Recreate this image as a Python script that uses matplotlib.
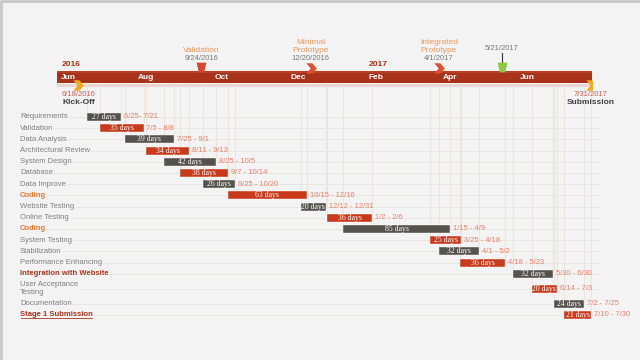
import matplotlib
matplotlib.use("Agg")
from matplotlib import pyplot as plt
from matplotlib.lines import Line2D
import matplotlib.dates as mdates
import numpy as np
import pandas as pd

# DATA
tasks = ["Requirements", "Validation", "Data Analysis", "Architectural Review",
         "System Design", "Database", "Data Improve", "Coding", "Website Testing",
         "Online Testing", "Coding", "System Testing", "Stabilization",
         "Performance Enhancing", "Integration with Website",
         "User Acceptance\nTesting", "Documentation", "Stage 1 Submission"]
starts = ["2016-06-25", "2016-07-05", "2016-07-25", "2016-08-11", "2016-08-25",
          "2016-09-07", "2016-09-25", "2016-10-15", "2016-12-12", "2017-01-02",
          "2017-01-15", "2017-03-25", "2017-04-01", "2017-04-18", "2017-05-30",
          "2017-06-14", "2017-07-02", "2017-07-10"]
ends = ["2016-07-21", "2016-08-08", "2016-09-01", "2016-09-13", "2016-10-05",
        "2016-10-14", "2016-10-20", "2016-12-16", "2016-12-31", "2017-02-06",
        "2017-04-09", "2017-04-18", "2017-05-02", "2017-05-23", "2017-06-30",
        "2017-07-03", "2017-07-25", "2017-07-30"]
durations = [27, 35, 39, 34, 42, 38, 26, 63, 20, 36, 85, 25, 32, 36, 32, 20, 24, 21]
range_labels = ["6/25- 7/21", "7/5 - 8/8", "7/25 - 9/1", "8/11 - 9/13", "8/25 - 10/5",
                "9/7 - 10/14", "9/25 - 10/20", "10/15 - 12/16", "12/12 - 12/31",
                "1/2 - 2/6", "1/15 - 4/9", "3/25 - 4/18", "4/1 - 5/2", "4/18 - 5/23",
                "5/30 - 6/30", "6/14 - 7/3", "7/2 - 7/25", "7/10 - 7/30"]
label_kind = ["n", "n", "n", "n", "n", "n", "n", "coding", "n", "n", "coding",
              "n", "n", "n", "group", "n", "n", "stage"]

month_dates = ["2016-06-01", "2016-08-01", "2016-10-01", "2016-12-01",
               "2017-02-01", "2017-04-01", "2017-06-01"]
month_labels = ["Jun", "Aug", "Oct", "Dec", "Feb", "Apr", "Jun"]
year_dates = ["2016-06-01", "2017-02-01"]
year_labels = ["2016", "2017"]

timeline_start = "2016-06-01"
timeline_end = "2017-08-01"

# milestones above the bar
top_ms_dates = ["2016-09-24", "2016-12-20", "2017-04-01", "2017-05-21"]
top_ms_names = ["Validation", "Minimal\nPrototype", "Integrated\nPrototype", ""]
top_ms_labels = ["9/24/2016", "12/20/2016", "4/1/2017", "5/21/2017"]
top_ms_shape = ["flag", "chevron", "chevron", "flag"]
top_ms_color = ["#d9462a", "#e0502a", "#e0502a", "#8dc63f"]

# milestones below the bar
bot_ms_dates = ["2016-06-18", "2017-07-31"]
bot_ms_names = ["Kick-Off", "Submission"]
bot_ms_labels = ["6/18/2016", "7/31/2017"]

#__________________________________________________________________________

BG = "#f3f3f3"
RED = "#a8321a"
GRAY_BAR = "#55524d"
RED_BAR = "#c9391c"
DATE_TXT = "#e8806a"
LBL = "#808080"
FONT = "Liberation Sans"

d = lambda s: mdates.date2num(pd.Timestamp(s))

W, H = 640, 360
fig = plt.figure(figsize=(6.4, 3.6), dpi=100, facecolor=BG)
# frame only on the top and left edge, like the slide screenshot
fig.lines.append(Line2D([0.002, 0.002, 1], [0, 0.996, 0.996], transform=fig.transFigure,
                        color="#c9c9c9", lw=2))

x0, x1 = 57, 592
# gantt axes, rows
ax = fig.add_axes([x0 / W, (H - 335) / H, (x1 - x0) / W, (335 - 86) / H])
ax.set_facecolor("none")
row_px, first_px = 11.2, 117
ax.set_ylim((335 - first_px) / row_px, (86 - first_px) / row_px)
ax.set_xlim(d(timeline_start), d(timeline_end))
ax.axis("off")

# row positions (the two-line row gets more room)
ypos = []
y = 0.0
for i in range(len(tasks)):
    if i > 0:
        y += 1.33 if i in (15, 16) else 1.0
    ypos.append(y)

left = np.array([d(s) for s in starts])
right = np.array([d(e) + 1 for e in ends])
colors = [GRAY_BAR if i % 2 == 0 else RED_BAR for i in range(len(tasks))]

top_y = ax.get_ylim()[1]
for l, r, yy in zip(left, right, ypos):
    ax.plot([l, l], [top_y, yy], color="#ebe5de", lw=0.8, zorder=0)
    ax.plot([r, r], [top_y, yy], color="#ebe5de", lw=0.8, zorder=0)

lx = (20 - x0) / (x1 - x0)
for yy in ypos:
    ax.plot([lx, (600 - x0) / (x1 - x0)], [yy, yy], color="#e9e5e0", lw=0.7,
            transform=ax.get_yaxis_transform(), clip_on=False, zorder=0)

ax.barh(ypos, right - left, left=left, height=0.72, color=colors,
        edgecolor="#ffffff", linewidth=0.3, zorder=2)

for l, r, yy, n, rl in zip(left, right, ypos, durations, range_labels):
    ax.text((l + r) / 2, yy, f"{n} days", color="white", fontsize=5.6,
            family="Liberation Serif", ha="center", va="center", zorder=3)
    ax.annotate(rl, (r, yy), xytext=(2, 0), textcoords="offset points",
                color=DATE_TXT, fontsize=5.4, family=FONT, va="center", zorder=3)

stage_text = None
for name, yy, kind in zip(tasks, ypos, label_kind):
    kw = dict(color=LBL, fontweight="normal")
    if kind == "coding":
        kw = dict(color="#ec7a2c", fontweight="bold")
    elif kind in ("group", "stage"):
        kw = dict(color="#a8361f", fontweight="bold")
    t = ax.text(lx, yy, name, transform=ax.get_yaxis_transform(), fontsize=5.5,
                family=FONT, va="center", ha="left", linespacing=1.3,
                bbox=dict(fc=BG, ec="none", pad=0.6), zorder=3, **kw)
    if kind == "stage":
        stage_text = t

#__________________________________________________________________________
# timeline axes (y in pixel units)
tx = fig.add_axes([x0 / W, (H - 112) / H, (x1 - x0) / W, (112 - 25) / H])
tx.set_facecolor("none")
tx.set_xlim(d(timeline_start), d(timeline_end))
tx.set_ylim(112, 25)
tx.axis("off")

span = d(timeline_end) - d(timeline_start)
tx.barh([85.5], [span], left=d(timeline_start), height=2.5, color="#ecd6cf", zorder=1)
tx.barh([77], [span], left=d(timeline_start), height=12.5, color=RED, zorder=2)
tx.barh([72], [span], left=d(timeline_start), height=2, color="#b5412a", zorder=2)

for md, ml in zip(month_dates, month_labels):
    tx.annotate(ml, (d(md), 77.5), xytext=(3, 0), textcoords="offset points",
                color="white", fontsize=6, fontweight="bold", family=FONT,
                va="center", ha="left", zorder=4)
for yd, yl in zip(year_dates, year_labels):
    tx.annotate(yl, (d(yd), 65), xytext=(3, 0), textcoords="offset points",
                color=RED, fontsize=6, fontweight="bold", family=FONT,
                va="center", ha="left")

chevron = [(-1, 1), (0.15, 1), (1, 0), (0.15, -1), (-1, -1), (-0.15, 0), (-1, 1)]
flag = [(-1, 1), (1, 1), (0.55, -1), (-0.55, -1), (-1, 1)]

for md, nm, lb, sh, c in zip(top_ms_dates, top_ms_names, top_ms_labels,
                             top_ms_shape, top_ms_color):
    x = d(md)
    if sh == "flag":
        tx.plot([x], [66.5], marker=flag, ms=7, color=c, mec="none", zorder=5)
    else:
        tx.plot([x], [67.5], marker=chevron, ms=7.5, color=c, mec="none", zorder=5)
    if nm:
        tx.text(x, 59, lb, color="#7a7a7a", fontsize=5.5, family=FONT,
                ha="center", va="center")
        tx.text(x, 54, nm, color="#eb9a62", fontsize=6, family=FONT,
                ha="center", va="bottom", linespacing=1.1)
    else:
        tx.plot([x, x], [53, 63], color="#333333", lw=0.8, zorder=4)
        tx.text(x, 49, lb, color="#7a7a7a", fontsize=5.5, family=FONT,
                ha="center", va="center")

for md, nm, lb in zip(bot_ms_dates, bot_ms_names, bot_ms_labels):
    x = d(md)
    tx.plot([x], [84.5], marker=chevron, ms=7.5, color="#f2a91a", mec="none", zorder=5)
    tx.text(x, 94.5, lb, color="#c9605a", fontsize=5.5, family=FONT,
            ha="center", va="center")
    tx.text(x, 102.5, nm, color="#404040", fontsize=6, fontweight="bold",
            family=FONT, ha="center", va="center")

# underline for the stage row label
fig.canvas.draw()
bb = stage_text.get_window_extent(renderer=fig.canvas.get_renderer())
inv = fig.transFigure.inverted()
(ux0, uy0), (ux1, _) = inv.transform([(bb.x0 + 0.6, bb.y0 + 0.3), (bb.x1 - 0.6, bb.y0)])
fig.lines.append(Line2D([ux0, ux1], [uy0, uy0], transform=fig.transFigure,
                        color="#a8361f", lw=0.6))

fig.savefig("out.png", dpi=100, facecolor=BG)
